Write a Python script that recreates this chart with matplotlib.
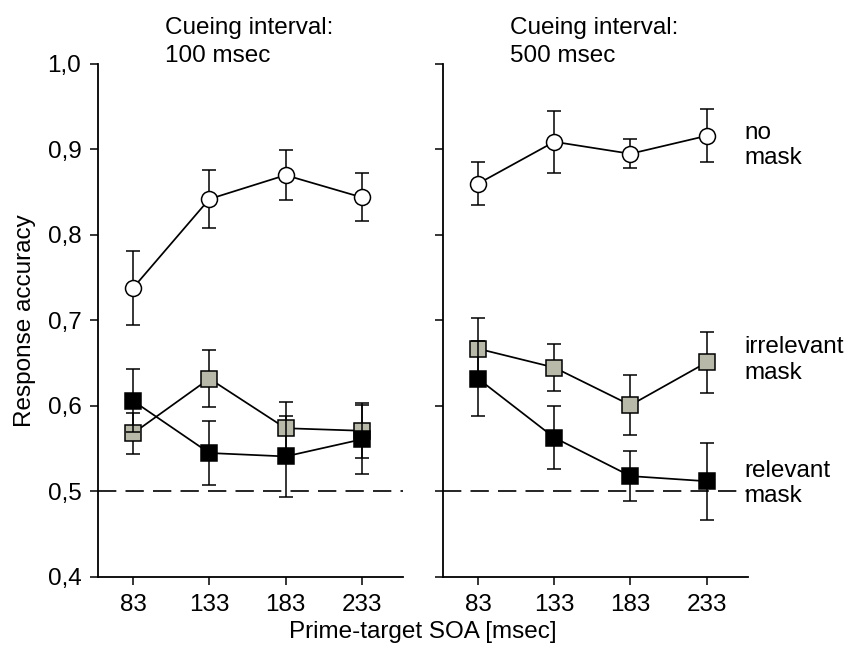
import numpy as np
import matplotlib
matplotlib.use("Agg")
import matplotlib.pyplot as plt

plt.rcParams['font.family'] = ['Liberation Sans', 'DejaVu Sans']

soa = [83, 133, 183, 233]
soa_labels = ["83", "133", "183", "233"]

# cueing interval 100 msec
no_mask_100 = [0.738, 0.842, 0.870, 0.844]
no_mask_100_err = [0.043, 0.034, 0.029, 0.028]
irrel_100 = [0.568, 0.632, 0.574, 0.571]
irrel_100_err = [0.024, 0.033, 0.031, 0.032]
rel_100 = [0.606, 0.545, 0.541, 0.561]
rel_100_err = [0.037, 0.037, 0.047, 0.040]

# cueing interval 500 msec
no_mask_500 = [0.860, 0.909, 0.895, 0.916]
no_mask_500_err = [0.025, 0.036, 0.017, 0.031]
irrel_500 = [0.667, 0.645, 0.601, 0.651]
irrel_500_err = [0.036, 0.028, 0.035, 0.036]
rel_500 = [0.632, 0.563, 0.518, 0.512]
rel_500_err = [0.044, 0.037, 0.029, 0.045]

y_ticks = [0.4, 0.5, 0.6, 0.7, 0.8, 0.9, 1.0]
y_labels = ["0,4", "0,5", "0,6", "0,7", "0,8", "0,9", "1,0"]

panel_titles = ["Cueing interval:\n100 msec", "Cueing interval:\n500 msec"]
series_labels = ["no\nmask", "irrelevant\nmask", "relevant\nmask"]
label_y = [0.905, 0.654, 0.509]

GRAY = "#b9b9aa"
FS = 17.5

fig = plt.figure(figsize=(8.46, 6.51), dpi=100)
ax1 = fig.add_axes([0.1158, 0.1137, 0.3606, 0.788])
ax2 = fig.add_axes([0.5236, 0.1137, 0.3604, 0.788])

panels = [
    (ax1, no_mask_100, no_mask_100_err, irrel_100, irrel_100_err, rel_100, rel_100_err),
    (ax2, no_mask_500, no_mask_500_err, irrel_500, irrel_500_err, rel_500, rel_500_err),
]

for i, (ax, nm, nme, ir, ire, rl, rle) in enumerate(panels):
    ax.axhline(0.5, color="black", lw=1.2, dashes=(11, 5.5), zorder=1)
    common = dict(color="black", lw=1.25, elinewidth=1.1, capsize=4.8,
                  capthick=1.1, markeredgecolor="black", markeredgewidth=1.1)
    ax.errorbar(soa, ir, yerr=ire, fmt="-s", ms=11.5, markerfacecolor=GRAY,
                zorder=3, **common)
    ax.errorbar(soa, rl, yerr=rle, fmt="-s", ms=11.5, markerfacecolor="black",
                zorder=4, **common)
    ax.errorbar(soa, nm, yerr=nme, fmt="-o", ms=11.5, markerfacecolor="white",
                zorder=5, **common)

    ax.set_xlim(60, 260)
    ax.set_ylim(0.4, 1.0)
    ax.set_xticks(soa)
    ax.set_xticklabels(soa_labels)
    ax.set_yticks(y_ticks)
    ax.spines["top"].set_visible(False)
    ax.spines["right"].set_visible(False)
    for s in ("left", "bottom"):
        ax.spines[s].set_linewidth(1.3)
    ax.tick_params(direction="out", length=6, width=1.1, labelsize=FS, pad=6)
    if i == 0:
        ax.set_yticklabels(y_labels)
    else:
        ax.set_yticklabels([])
    ax.text(0.22, 0.995, panel_titles[i], transform=ax.transAxes,
            ha="left", va="bottom", fontsize=FS, linespacing=1.3)

for lab, yv in zip(series_labels, label_y):
    ax2.text(258, yv, lab, ha="left", va="center", fontsize=FS,
             linespacing=1.2, clip_on=False)

ax1.set_ylabel("Response accuracy", fontsize=FS, labelpad=8)
fig.text(0.5, 0.012, "Prime-target SOA [msec]", ha="center", va="bottom",
         fontsize=FS)

fig.savefig("out.png", dpi=100)
